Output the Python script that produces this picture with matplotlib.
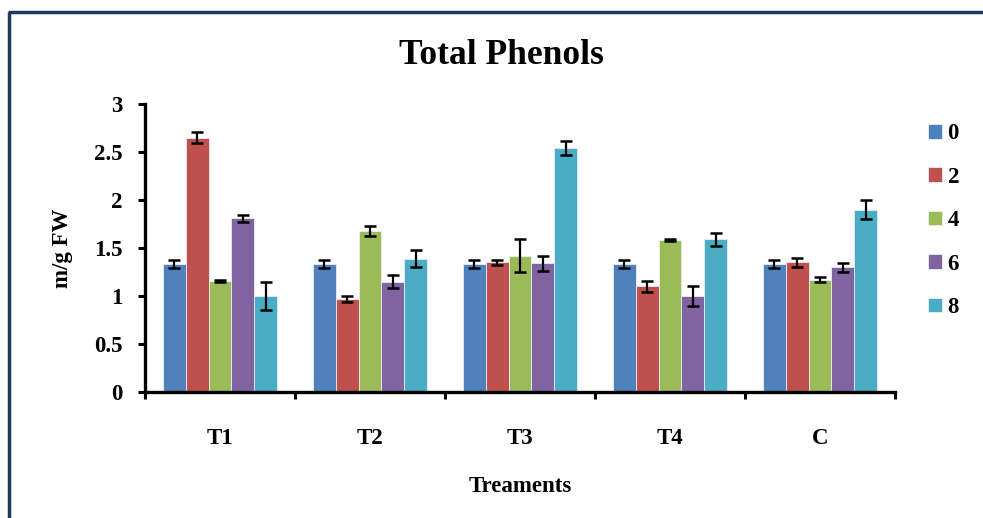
import numpy as np
import matplotlib.pyplot as plt
from matplotlib.lines import Line2D

# Total phenols per treatment, sampled at days 0-8
treatments = ['T1', 'T2', 'T3', 'T4', 'C']
days = ['0', '2', '4', '6', '8']

day0 = [1.33, 1.33, 1.33, 1.33, 1.33]
day2 = [2.65, 0.97, 1.35, 1.10, 1.35]
day4 = [1.16, 1.68, 1.42, 1.58, 1.17]
day6 = [1.81, 1.15, 1.34, 1.00, 1.30]
day8 = [1.00, 1.39, 2.54, 1.59, 1.90]

err0 = [0.04, 0.04, 0.04, 0.04, 0.04]
err2 = [0.06, 0.03, 0.025, 0.06, 0.05]
err4 = [0.01, 0.05, 0.17, 0.01, 0.025]
err6 = [0.035, 0.065, 0.08, 0.10, 0.045]
err8 = [0.15, 0.09, 0.07, 0.07, 0.10]

values = [day0, day2, day4, day6, day8]
errors = [err0, err2, err4, err6, err8]
colors = ['#4F81BD', '#C0504D', '#9BBB59', '#8064A2', '#4BACC6']

plt.rcParams['font.family'] = ['Liberation Serif', 'DejaVu Serif']
plt.rcParams['font.weight'] = 'bold'

fig = plt.figure(figsize=(9.83, 5.18), dpi=100)
ax = fig.add_axes([0.1475, 0.2432, 0.763, 0.556])

x = np.arange(len(treatments))
w = 0.153
for i, (vals, errs) in enumerate(zip(values, errors)):
    ax.bar(x + (i - 2) * w, vals, w, color=colors[i], edgecolor='#e8eef5',
           linewidth=0.6, label=days[i], zorder=2)
    ax.errorbar(x + (i - 2) * w, vals, yerr=errs, fmt='none', ecolor='black',
                elinewidth=1.6, capsize=4.5, capthick=1.8, zorder=3)

ax.set_xlim(-0.5, 4.5)
ax.set_ylim(0, 3)
ax.set_yticks([0, 0.5, 1, 1.5, 2, 2.5, 3])
ax.set_yticklabels(['0', '0.5', '1', '1.5', '2', '2.5', '3'])
ax.set_xticks(np.arange(-0.5, 5, 1))
ax.set_xticklabels([])
ax.set_xticks(x, minor=True)
ax.set_xticklabels(treatments, minor=True)
ax.tick_params(axis='x', which='major', length=5, width=2.2, direction='out')
ax.tick_params(axis='x', which='minor', length=0, pad=26, labelsize=16.5)
ax.tick_params(axis='y', length=5, width=2.2, direction='out', pad=11, labelsize=16.5)

for s in ['top', 'right']:
    ax.spines[s].set_visible(False)
for s in ['left', 'bottom']:
    ax.spines[s].set_linewidth(2.4)

ax.set_ylabel('m/g FW', fontsize=16.5, fontweight='bold', labelpad=15)
ax.set_xlabel('Treaments', fontsize=16.5, fontweight='bold', labelpad=19)

fig.text(0.51, 0.892, 'Total Phenols', ha='center', va='center',
         fontsize=25.5, fontweight='bold')

ax.legend(loc='upper left', bbox_to_anchor=(1.044, 0.933), frameon=False,
          fontsize=16.5, handlelength=0.6, handleheight=0.6, handletextpad=0.25,
          labelspacing=0.98, borderaxespad=0, borderpad=0)

# dark frame along the left and top edges
fig.add_artist(Line2D([0.0093, 0.0093], [0, 0.977], color='#1F3864', lw=2.5,
                      transform=fig.transFigure, solid_capstyle='butt'))
fig.add_artist(Line2D([0.008, 1.0], [0.977, 0.977], color='#1F3864', lw=2.5,
                      transform=fig.transFigure, solid_capstyle='butt'))

fig.savefig('out.png', dpi=100)
